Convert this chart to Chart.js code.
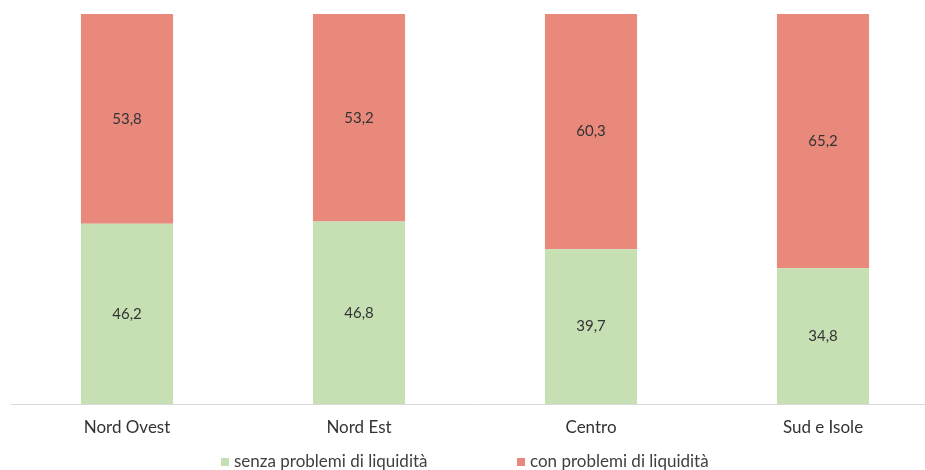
<!DOCTYPE html>
<html>
<head>
<meta charset="utf-8">
<script src="https://cdn.jsdelivr.net/npm/chart.js@4.4.0/dist/chart.umd.min.js"></script>
<style>
  html, body { margin: 0; padding: 0; background: #fff; overflow: hidden; }
  #wrap { width: 940px; height: 480px; }
</style>
</head>
<body>
<div id="wrap"><canvas id="chart-bars" width="940" height="480"></canvas></div>
<script>
// categorie e valori (%)
var areas = ["Nord Ovest", "Nord Est", "Centro", "Sud e Isole"];
var senzaProblemi = [46.2, 46.8, 39.7, 34.8];
var conProblemi = [53.8, 53.2, 60.3, 65.2];
var seriesNames = ["senza problemi di liquidità", "con problemi di liquidità"];

var FONT = "Lato, 'Open Sans', sans-serif";

// valori scritti al centro di ogni segmento, con la virgola
var valueLabels = {
    id: "valueLabels",
    afterDatasetsDraw: function(chart) {
        var ctx = chart.ctx;
        ctx.save();
        ctx.font = "15px " + FONT;
        ctx.fillStyle = "#333333";
        ctx.textAlign = "center";
        ctx.textBaseline = "middle";
        chart.data.datasets.forEach(function(ds, i) {
            chart.getDatasetMeta(i).data.forEach(function(bar, j) {
                var mid = (bar.y + bar.base) / 2;
                ctx.fillText(ds.data[j].toFixed(1).replace(".", ","), bar.x, mid);
            });
        });
        ctx.restore();
    }
};

// legenda in basso
var bottomLegend = {
    id: "bottomLegend",
    afterDraw: function(chart) {
        var ctx = chart.ctx;
        var xs = [221, 517];
        var y = 462;
        ctx.save();
        ctx.font = "17px " + FONT;
        ctx.textBaseline = "middle";
        ctx.textAlign = "left";
        chart.data.datasets.forEach(function(ds, i) {
            ctx.fillStyle = ds.backgroundColor;
            ctx.fillRect(xs[i], y - 4, 8, 8);
            ctx.fillStyle = "#404040";
            ctx.fillText(ds.label, xs[i] + 13, y);
        });
        ctx.restore();
    }
};

var ctx = document.getElementById("chart-bars").getContext("2d");

new Chart(ctx, {
    type: "bar",
    data: {
        labels: areas,
        datasets: [{
            label: seriesNames[0],
            data: senzaProblemi,
            backgroundColor: "#c6e0b4",
            borderWidth: 0,
            barPercentage: 0.397,
            categoryPercentage: 1
        }, {
            label: seriesNames[1],
            data: conProblemi,
            backgroundColor: "#e8897c",
            borderWidth: 0,
            barPercentage: 0.397,
            categoryPercentage: 1
        }]
    },
    options: {
        responsive: false,
        animation: false,
        layout: {
            padding: { left: 11, right: 1, top: 14, bottom: 0 }
        },
        plugins: {
            legend: { display: false },
            tooltip: { enabled: false }
        },
        scales: {
            x: {
                stacked: true,
                grid: { display: false, drawTicks: false },
                border: { display: true, color: "#d9d9d9", width: 1 },
                ticks: {
                    padding: 13,
                    color: "#333333",
                    font: { size: 17, family: FONT }
                },
                afterFit: function(scale) { scale.height = 76; }
            },
            y: {
                stacked: true,
                display: false,
                min: 0,
                max: 100
            }
        }
    },
    plugins: [valueLabels, bottomLegend]
});
</script>
</body>
</html>
